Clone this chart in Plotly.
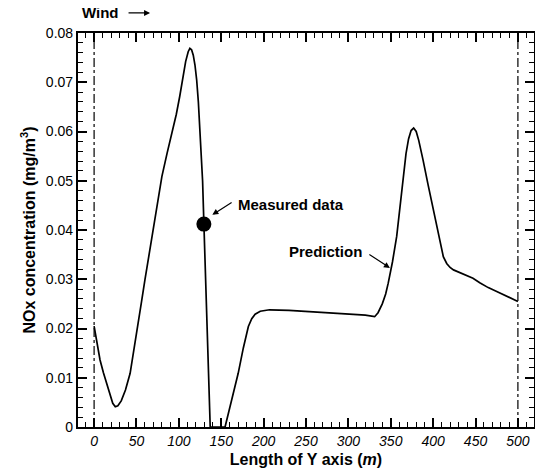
import plotly.graph_objects as go

# Prediction curve
y_axis_length = [0, 4, 7, 11, 15, 19, 22, 25, 28, 32, 37, 42.5, 47, 52, 56, 60, 64, 68, 74, 80,
                 86, 92, 97, 101, 105, 108, 111, 113, 115, 117, 119, 121, 123, 125, 126, 128,
                 129.5, 133, 137, 154.5, 158, 162, 166, 170, 176, 182, 186, 190, 196, 207, 230,
                 260, 300, 320, 331, 335, 340, 344, 347, 352, 357, 361, 365, 368, 371, 374, 377,
                 380, 383, 386, 388, 394, 400, 406, 409, 412, 416, 420, 424, 435, 447, 455, 465,
                 475, 488, 500]
nox_pred = [0.0205, 0.0165, 0.0136, 0.0110, 0.0089, 0.0065, 0.0048, 0.0041, 0.0043, 0.0053,
            0.0075, 0.0109, 0.0155, 0.0211, 0.0255, 0.0299, 0.0340, 0.0380, 0.0445, 0.0509,
            0.0555, 0.0597, 0.0635, 0.0671, 0.0712, 0.0742, 0.0762, 0.0769, 0.0766, 0.0755,
            0.0735, 0.0705, 0.0660, 0.0604, 0.0570, 0.0500, 0.0414, 0.0210, 0.0, 0.0, 0.0025,
            0.0055, 0.0083, 0.0109, 0.0160, 0.0204, 0.0220, 0.0229, 0.0235, 0.0238, 0.0237,
            0.0234, 0.0230, 0.0227, 0.0224, 0.0232, 0.0250, 0.0270, 0.0292, 0.0335, 0.0387,
            0.0450, 0.0509, 0.0555, 0.0585, 0.0602, 0.0607, 0.0600, 0.0582, 0.0560, 0.0543,
            0.0492, 0.0441, 0.0390, 0.0365, 0.0346, 0.0332, 0.0324, 0.0319, 0.0311, 0.0302,
            0.0293, 0.0283, 0.0275, 0.0264, 0.0255]

# Measured data
meas_x = [129.5]
meas_y = [0.0412]

# Axis ranges
x_range = [-19, 519]
y_range = [0, 0.08]

font = "Liberation Sans, Arial, sans-serif"

fig = go.Figure()
fig.add_trace(go.Scatter(x=y_axis_length, y=nox_pred, mode="lines",
                         line=dict(color="black", width=1.7), showlegend=False))
fig.add_trace(go.Scatter(x=meas_x, y=meas_y, mode="markers",
                         marker=dict(color="black", size=15), showlegend=False))

for xv in [0, 500]:
    fig.add_shape(type="line", x0=xv, x1=xv, y0=0, y1=0.08, xref="x", yref="y",
                  line=dict(color="black", width=1.2, dash="dashdot"))

# Annotations
fig.add_annotation(x=167, y=0.0451, text="<b>Measured data</b>", showarrow=False,
                   xanchor="left", yanchor="middle", font=dict(family=font, size=15, color="black"))
fig.add_annotation(x=139.5, y=0.0431, ax=164, ay=0.0458, axref="x", ayref="y",
                   text="", showarrow=True, arrowhead=2, arrowsize=1, arrowwidth=1.2,
                   arrowcolor="black")
fig.add_annotation(x=318, y=0.0356, text="<b>Prediction</b>", showarrow=False,
                   xanchor="right", yanchor="middle", font=dict(family=font, size=15, color="black"))
fig.add_annotation(x=349, y=0.0323, ax=323, ay=0.0352, axref="x", ayref="y",
                   text="", showarrow=True, arrowhead=2, arrowsize=1, arrowwidth=1.2,
                   arrowcolor="black")
fig.add_annotation(x=0.004, y=1.051, xref="paper", yref="paper", text="<b>Wind</b>",
                   showarrow=False, xanchor="left", yanchor="middle",
                   font=dict(family=font, size=15, color="black"))
fig.add_annotation(x=0.158, y=1.051, xref="paper", yref="paper", ax=-23, ay=0,
                   text="", showarrow=True, arrowhead=2, arrowsize=1, arrowwidth=1.2,
                   arrowcolor="black")

# page body has an 8px default margin, so the figure is sized to fit the window
fig.update_layout(
    template="none",
    width=535, height=464,
    margin=dict(l=70, r=9, t=25, b=45),
    paper_bgcolor="white", plot_bgcolor="white",
    font=dict(family=font, color="black"),
)
fig.update_xaxes(
    range=x_range, tick0=0, dtick=50, ticks="inside", ticklen=9, tickwidth=1.8,
    tickcolor="black", showline=True, linecolor="black", linewidth=2.2, mirror="allticks",
    showgrid=False, zeroline=False, automargin=False,
    minor=dict(dtick=10, ticks="inside", ticklen=5, tickcolor="black", tickwidth=1, showgrid=False),
    tickfont=dict(family=font, size=14, style="italic"),
    title=dict(text="<b>Length of Y axis (<i>m</i>)</b>", font=dict(family=font, size=16), standoff=6),
)
fig.update_yaxes(
    range=y_range, tick0=0, dtick=0.01, ticks="inside", ticklen=9, tickwidth=1.8,
    tickcolor="black", showline=True, linecolor="black", linewidth=2.2, mirror="allticks",
    showgrid=False, zeroline=False, automargin=False,
    minor=dict(dtick=0.002, ticks="inside", ticklen=5, tickcolor="black", tickwidth=1, showgrid=False),
    tickfont=dict(family=font, size=14),
    title=dict(text="<b>NOx concentration (mg/m<sup>3</sup>)</b>", font=dict(family=font, size=16)),
)

fig.write_html("out.html")
